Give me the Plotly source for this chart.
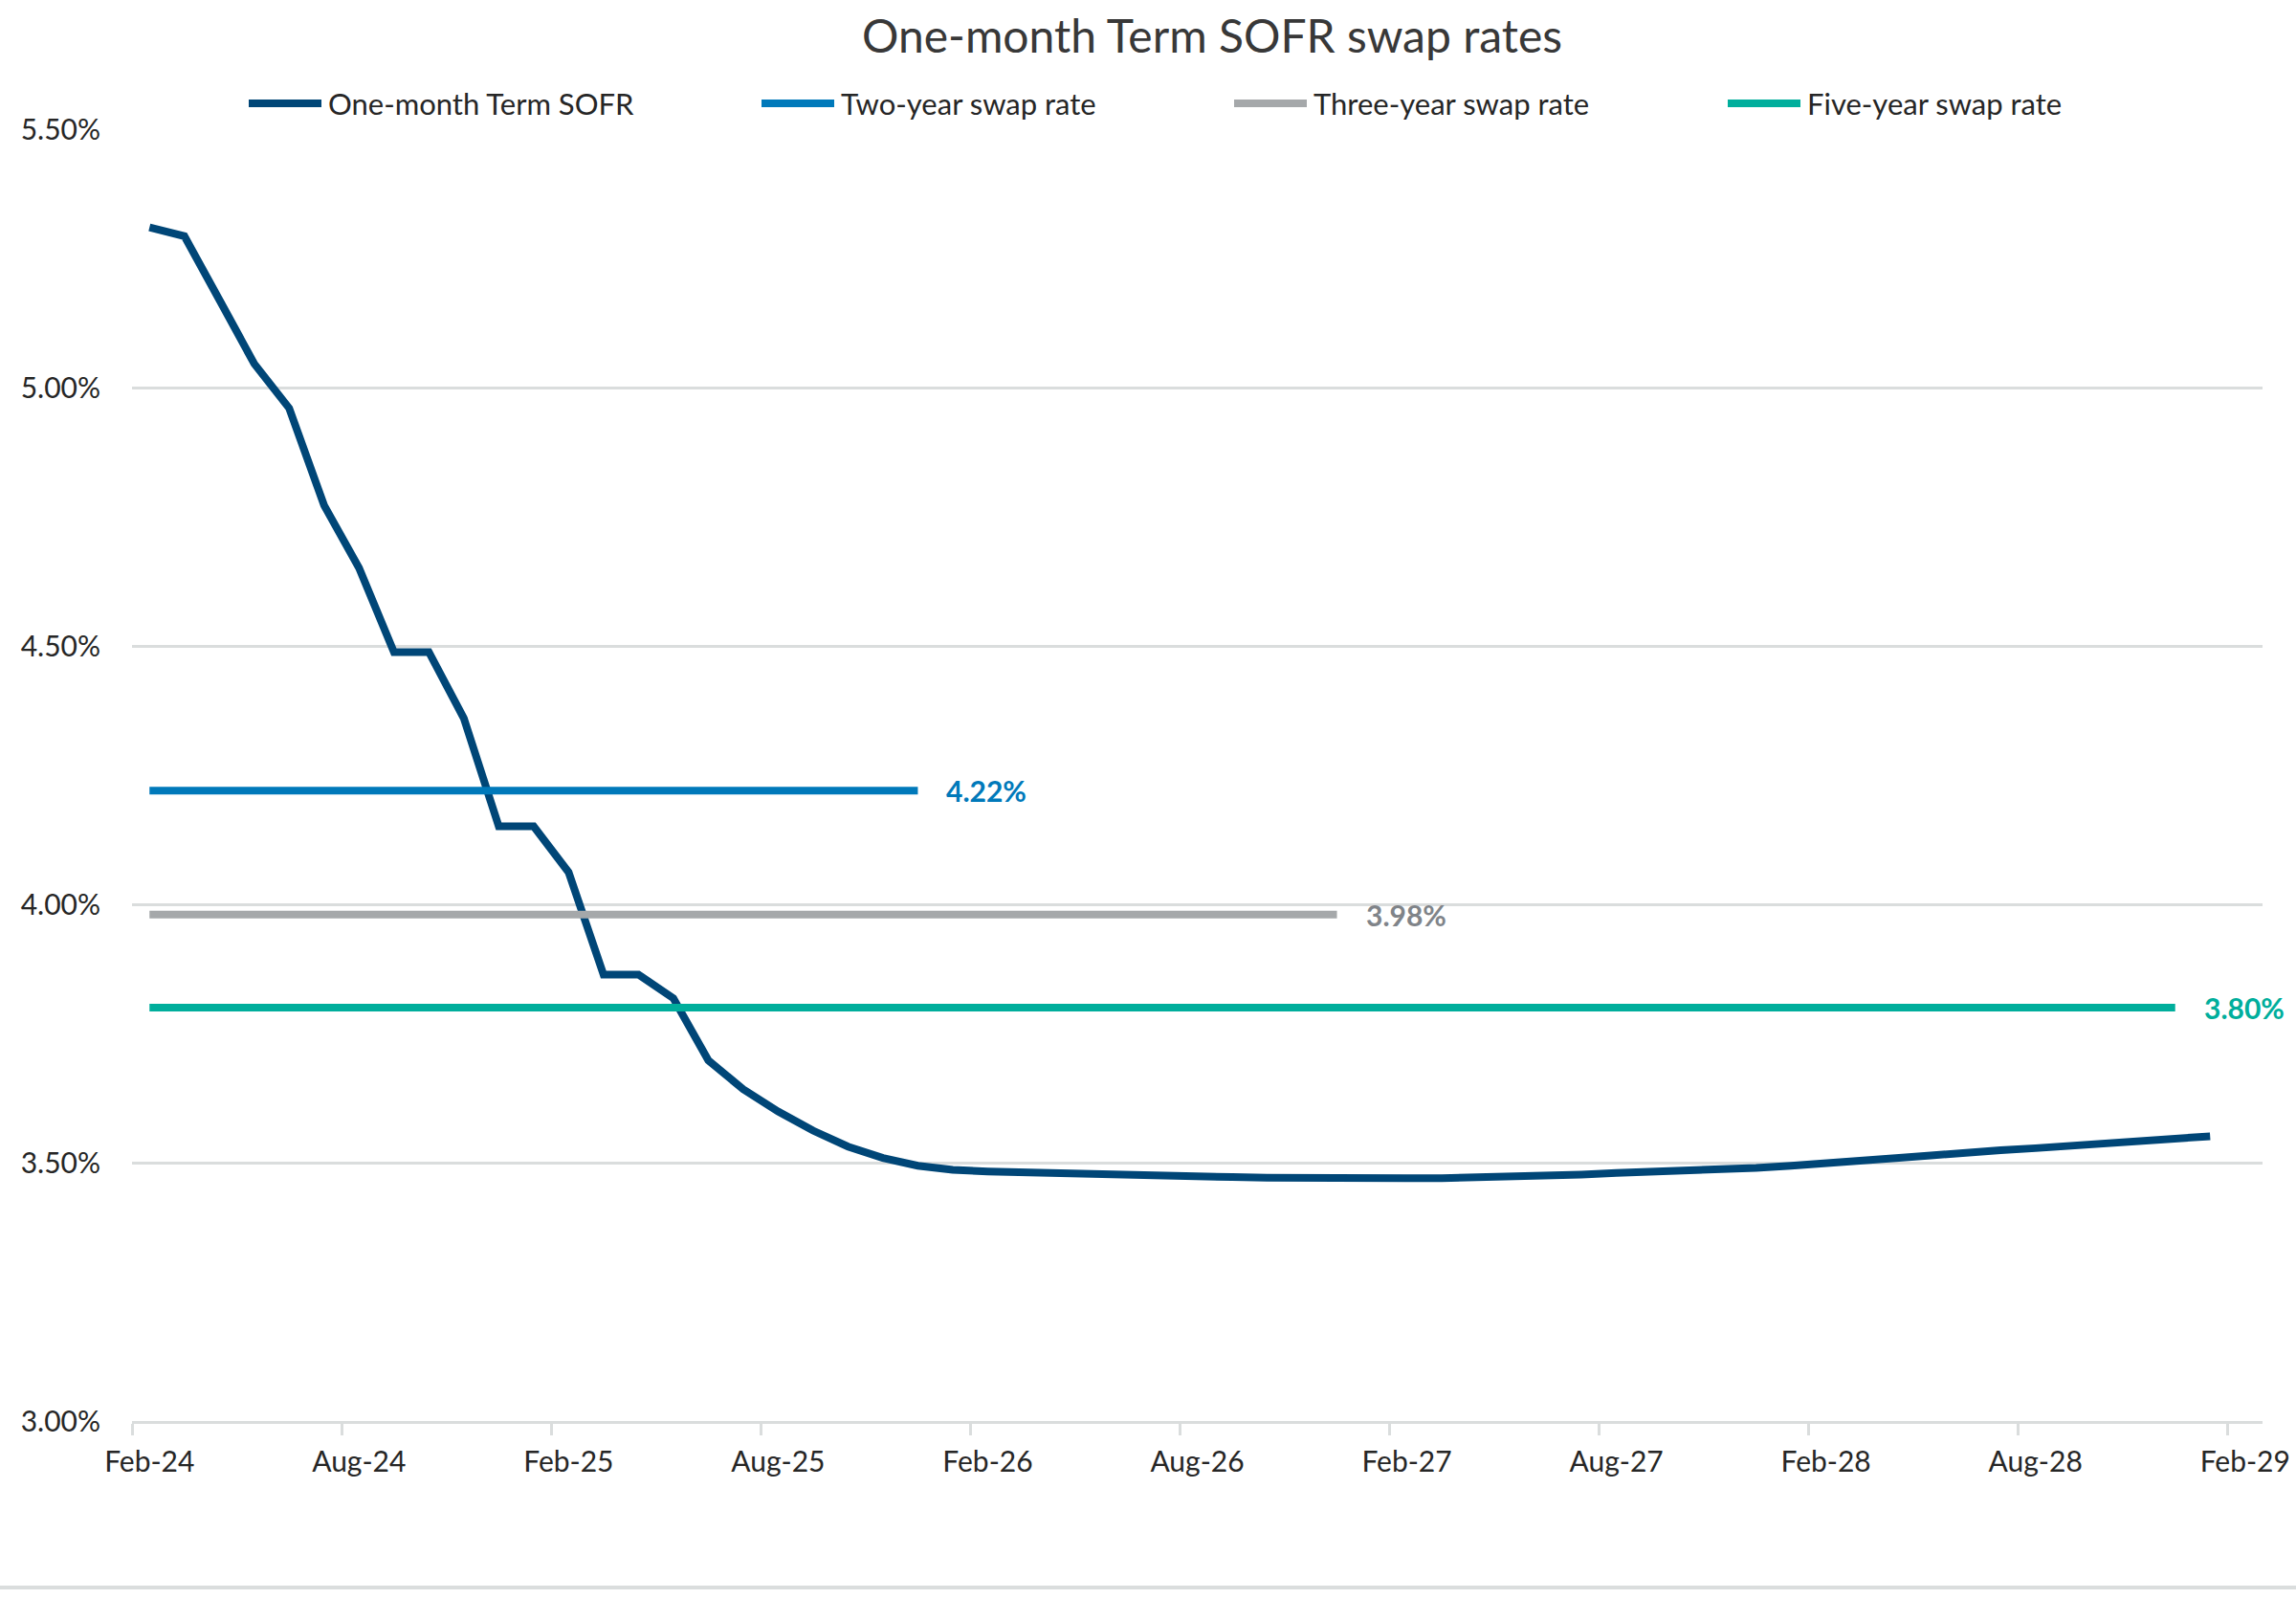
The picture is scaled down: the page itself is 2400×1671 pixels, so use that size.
import pandas as pd
import plotly.graph_objects as go

# ---------------- data ----------------
months = pd.date_range("2024-02-01", periods=61, freq="MS")
month_labels = [m.strftime("%b-%y") for m in months]

sofr = [5.310, 5.293, 5.170, 5.046, 4.960, 4.772, 4.651, 4.488, 4.488, 4.360,
        4.151, 4.151, 4.062, 3.864, 3.864, 3.818, 3.698, 3.642, 3.599, 3.562,
        3.531, 3.509, 3.494, 3.486, 3.483, 3.481, 3.479, 3.477, 3.476, 3.475,
        3.474, 3.472, 3.471, 3.470, 3.470, 3.470, 3.470, 3.470, 3.471, 3.473,
        3.475, 3.477, 3.480, 3.482, 3.485, 3.487, 3.490, 3.494, 3.498, 3.503,
        3.509, 3.514, 3.520, 3.524, 3.528, 3.533, 3.538, 3.543, 3.548, 3.551]

two_year_rate = 4.22
two_year_months = 23
three_year_rate = 3.98
three_year_months = 35
five_year_rate = 3.80
five_year_months = 59

series_names = ["One-month Term SOFR", "Two-year swap rate",
                "Three-year swap rate", "Five-year swap rate"]
y_ticks = [3.0, 3.5, 4.0, 4.5, 5.0, 5.5]
x_tick_idx = list(range(0, 61, 6))
x_tick_text = [month_labels[i] for i in x_tick_idx]

# ---------------- styles / layout constants ----------------
C_SOFR = "#004677"
C_2Y = "#0079BA"
C_3Y = "#A5A8AA"
C_5Y = "#00AE9C"
C_3Y_TXT = "#808489"
GRID = "#DADDDD"
TXT = "#262626"
FONT = "Lato"
colors = [C_SOFR, C_2Y, C_3Y, C_5Y]

W, H = 2400, 1671
ML, MR, MT, MB = 138, 35, 135, 186
PW, PH = W - ML - MR, H - MT - MB


def px_x(px):
    return (px - ML) / PW


def px_y(py):
    return (H - MB - py) / PH


fig = go.Figure()


def idx(n):
    return list(range(n))


fig.add_trace(go.Scatter(x=idx(len(sofr)), y=sofr, mode="lines",
                         name=series_names[0],
                         line=dict(color=C_SOFR, width=8)))
fig.add_trace(go.Scatter(x=idx(two_year_months), y=[two_year_rate] * two_year_months,
                         mode="lines", name=series_names[1],
                         line=dict(color=C_2Y, width=8)))
fig.add_trace(go.Scatter(x=idx(three_year_months), y=[three_year_rate] * three_year_months,
                         mode="lines", name=series_names[2],
                         line=dict(color=C_3Y, width=8)))
fig.add_trace(go.Scatter(x=idx(five_year_months), y=[five_year_rate] * five_year_months,
                         mode="lines", name=series_names[3],
                         line=dict(color=C_5Y, width=8)))

# end-of-line data labels
for n, rate, col in [(two_year_months, two_year_rate, C_2Y),
                     (three_year_months, three_year_rate, C_3Y_TXT),
                     (five_year_months, five_year_rate, C_5Y)]:
    fig.add_annotation(x=n - 1, y=rate, text=f"{rate:.2f}%", showarrow=False,
                       xanchor="left", yanchor="middle", xshift=28,
                       font=dict(family=FONT, size=30, color=col, weight="bold"))

# legend (Excel-style: long line keys)
legend_starts = [260, 796, 1290, 1806]
legend_y = 108
for name, col, x0 in zip(series_names, colors, legend_starts):
    fig.add_shape(type="line", xref="paper", yref="paper",
                  x0=px_x(x0), x1=px_x(x0 + 76), y0=px_y(legend_y), y1=px_y(legend_y),
                  line=dict(color=col, width=8))
    fig.add_annotation(xref="paper", yref="paper", x=px_x(x0 + 81), y=px_y(legend_y),
                       text=name, showarrow=False, xanchor="left", yanchor="middle",
                       font=dict(family=FONT, size=31, color=TXT))

fig.update_layout(
    width=W, height=H,
    margin=dict(l=ML, r=MR, t=MT, b=MB, autoexpand=False),
    paper_bgcolor="white", plot_bgcolor="white",
    font=dict(family=FONT, color=TXT),
    title=dict(text="One-month Term SOFR swap rates", x=1267 / W, xanchor="center",
               y=1 - 38 / H, yanchor="middle",
               font=dict(family=FONT, size=48, color="#383838")),
    showlegend=False,
)

fig.update_xaxes(
    range=[-0.5, 60.5], tickmode="array", tickvals=x_tick_idx, ticktext=x_tick_text,
    ticks="", showgrid=False, zeroline=False, automargin=False,
    showline=True, linecolor=GRID, linewidth=3,
    tickfont=dict(family=FONT, size=30, color=TXT),
    ticklabelstandoff=14,
    minor=dict(tick0=-0.5, dtick=6, ticks="outside", ticklen=12,
               tickcolor=GRID, tickwidth=3, showgrid=False),
)
fig.update_yaxes(
    range=[3.0, 5.5], tickmode="array", tickvals=y_ticks,
    ticktext=[f"{v:.2f}%" for v in y_ticks],
    showgrid=True, gridcolor=GRID, gridwidth=3, zeroline=False, showline=False,
    automargin=False,
    ticks="", tickfont=dict(family=FONT, size=30, color=TXT),
    ticklabelstandoff=32,
)

# chart border bottom line
fig.add_shape(type="line", xref="paper", yref="paper",
              x0=px_x(0), x1=px_x(W), y0=px_y(1659), y1=px_y(1659),
              line=dict(color=GRID, width=4), layer="below")

fig.write_html("out.html", config={"displayModeBar": False},
               post_script="document.body.style.margin='0';document.body.style.overflow='hidden';")
